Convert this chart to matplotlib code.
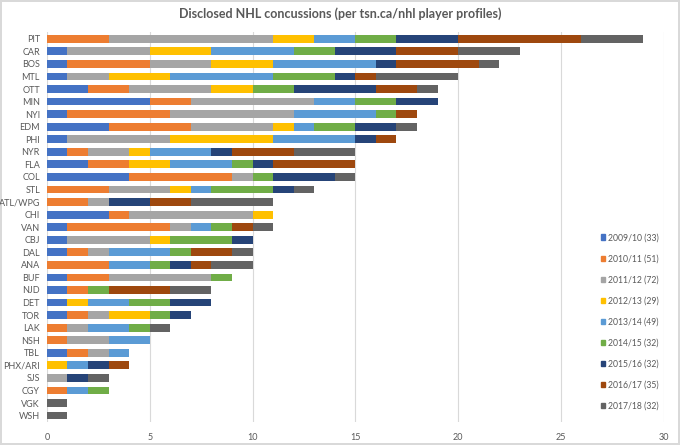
import matplotlib.pyplot as plt
from matplotlib.patches import Patch
import numpy as np

plt.rcParams['font.family'] = ['Lato', 'DejaVu Sans']

# Teams, top to bottom
teams = ["PIT", "CAR", "BOS", "MTL", "OTT", "MIN", "NYI", "EDM", "PHI", "NYR",
         "FLA", "COL", "STL", "ATL/WPG", "CHI", "VAN", "CBJ", "DAL", "ANA", "BUF",
         "NJD", "DET", "TOR", "LAK", "NSH", "TBL", "PHX/ARI", "SJS", "CGY", "VGK", "WSH"]

seasons = ["2009/10 (33)", "2010/11 (51)", "2011/12 (72)", "2012/13 (29)",
           "2013/14 (49)", "2014/15 (32)", "2015/16 (32)", "2016/17 (35)",
           "2017/18 (32)"]

# concussions per team, one list per season (same order as teams)
s0910 = [0, 1, 1, 1, 2, 5, 1, 3, 1, 1, 2, 4, 0, 0, 3, 1, 1, 1, 0, 1, 1, 1, 1, 0, 0, 1, 0, 0, 0, 0, 0]
s1011 = [3, 0, 4, 0, 2, 2, 5, 4, 0, 1, 2, 5, 3, 2, 1, 5, 0, 1, 3, 2, 1, 0, 1, 1, 1, 1, 0, 0, 1, 0, 0]
s1112 = [8, 4, 3, 2, 4, 6, 6, 4, 5, 2, 0, 1, 3, 1, 6, 1, 4, 1, 0, 5, 0, 0, 1, 1, 2, 1, 0, 1, 0, 0, 0]
s1213 = [2, 3, 3, 3, 2, 0, 0, 1, 5, 1, 2, 0, 1, 0, 1, 0, 1, 0, 0, 0, 0, 1, 2, 0, 0, 0, 1, 0, 0, 0, 0]
s1314 = [2, 4, 5, 5, 0, 2, 4, 1, 4, 3, 3, 0, 1, 0, 0, 1, 0, 3, 2, 0, 0, 2, 0, 2, 2, 1, 1, 0, 1, 0, 0]
s1415 = [2, 2, 0, 3, 2, 2, 1, 2, 0, 0, 1, 1, 3, 0, 0, 1, 3, 1, 1, 1, 1, 2, 1, 1, 0, 0, 0, 0, 1, 0, 0]
s1516 = [3, 3, 1, 1, 4, 2, 0, 2, 1, 1, 1, 3, 1, 2, 0, 0, 1, 0, 1, 0, 0, 2, 1, 0, 0, 0, 1, 1, 0, 0, 0]
s1617 = [6, 3, 4, 1, 2, 0, 1, 0, 1, 3, 4, 0, 0, 2, 0, 1, 0, 2, 1, 0, 3, 0, 0, 0, 0, 0, 1, 0, 0, 0, 0]
s1718 = [3, 3, 1, 4, 1, 0, 0, 1, 0, 3, 0, 1, 1, 4, 0, 1, 0, 1, 2, 0, 2, 0, 0, 1, 0, 0, 0, 1, 0, 1, 1]

series = [s0910, s1011, s1112, s1213, s1314, s1415, s1516, s1617, s1718]
colors = ["#4472C4", "#ED7D31", "#A5A5A5", "#FFC000", "#5B9BD5",
          "#70AD47", "#264478", "#9E480E", "#636363"]

fig = plt.figure(figsize=(6.8, 4.45), dpi=100)
fig.patch.set_edgecolor("#D9D9D9")
fig.patch.set_linewidth(1.5)
ax = fig.add_axes([0.069, 0.052, 0.907, 0.875])

y = np.arange(len(teams))
left = np.zeros(len(teams))
for vals, col in zip(series, colors):
    ax.barh(y, vals, left=left, height=0.62, color=col, zorder=3)
    left += np.array(vals)

ax.set_ylim(len(teams) - 0.5, -0.5)
ax.set_xlim(0, 30)
ax.set_xticks([0, 5, 10, 15, 20, 25, 30])
ax.set_yticks(y)
ax.set_yticklabels(teams)
ax.tick_params(axis="both", length=0, labelsize=6.5, labelcolor="#595959")
ax.tick_params(axis="x", pad=8)
ax.tick_params(axis="y", pad=5)
ax.grid(axis="x", color="#D9D9D9", linewidth=0.8, zorder=0)
for sp in ax.spines.values():
    sp.set_visible(False)

fig.suptitle("Disclosed NHL concussions (per tsn.ca/nhl player profiles)",
             x=0.5, y=0.983, fontsize=9, color="#595959", fontweight="bold")

handles = [Patch(color=c, label=s) for c, s in zip(colors, seasons)]
fig.legend(handles=handles, loc="lower left", bbox_to_anchor=(0.872, 0.06),
           frameon=False, fontsize=6.2, handlelength=0.55, handleheight=0.55,
           handletextpad=0.3, labelspacing=1.4, labelcolor="#595959")

fig.savefig("out.png", dpi=100)
